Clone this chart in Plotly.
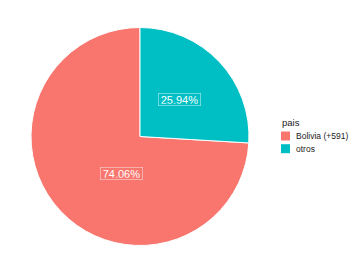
import math
import plotly.graph_objects as go

categories = ["Bolivia (+591)", "otros"]
values = [74.06, 25.94]
colors = ["#F8766D", "#00BFC4"]
legend_title = "pais"

W, H = 351, 273
cx_px, cy_px, R = 140, 136.5, 109

total = sum(values)
# rotate so that the last slice (otros) starts at 12 o'clock going clockwise
rot = 360 * values[-1] / total

fig = go.Figure(go.Pie(
    labels=categories, values=values, sort=False, direction="clockwise",
    rotation=rot, marker=dict(colors=colors, line=dict(color="white", width=1)),
    textinfo="none", hoverinfo="label+percent", showlegend=False,
    domain=dict(x=[(cx_px - R) / W, (cx_px + R) / W],
                y=[1 - (cy_px + R) / H, 1 - (cy_px - R) / H]),
))

FONT = "Liberation Sans, Arial"

# percentage labels at half radius, at the mid-angle of each slice
start = rot / 360
for cat, v in zip(categories, values):
    frac = v / total
    mid = start + frac / 2
    ang = 2 * math.pi * mid
    x = cx_px + 0.5 * R * math.sin(ang)
    y = cy_px - 0.5 * R * math.cos(ang)
    fig.add_annotation(x=x / W, y=1 - y / H, xref="paper", yref="paper",
                       text=f"{v:.2f}%", showarrow=False,
                       font=dict(color="white", size=11, family=FONT),
                       bordercolor="rgba(255,255,255,0.6)", borderwidth=0.7,
                       borderpad=2, height=8)
    start += frac

# legend (ggplot style): title, square keys, labels
lx, ly0, step, key = 281, 136, 12.7, 9
fig.add_annotation(x=(lx - 1) / W, y=1 - 123 / H, xref="paper", yref="paper",
                   xanchor="left", yanchor="middle", text=legend_title,
                   showarrow=False, font=dict(size=9.5, color="#1a1a1a", family=FONT))
for i, (cat, col) in enumerate(zip(categories, colors)):
    yc = ly0 + i * step
    fig.add_shape(type="rect", xref="paper", yref="paper",
                  x0=lx / W, x1=(lx + key) / W,
                  y0=1 - (yc - key / 2) / H, y1=1 - (yc + key / 2) / H,
                  fillcolor=col, line=dict(width=0))
    fig.add_annotation(x=(lx + key + 4) / W, y=1 - yc / H, xref="paper", yref="paper",
                       xanchor="left", yanchor="middle", text=cat, showarrow=False,
                       font=dict(size=8.5, color="#1a1a1a", family=FONT))

fig.update_layout(
    width=W, height=H, margin=dict(l=0, r=0, t=0, b=0, autoexpand=False),
    paper_bgcolor="white", plot_bgcolor="white",
    font=dict(family=FONT, size=9, color="#333333"),
)
fig.write_html("out.html", config={"displayModeBar": False},
               post_script="document.body.style.margin='0';")
